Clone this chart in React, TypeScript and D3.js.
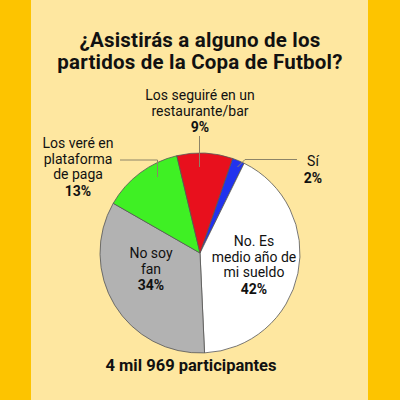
import React from 'react';
import * as d3 from 'd3';

// Datos de la encuesta (orden horario desde "Sí")
const categories = ['Sí', 'No. Es medio año de mi sueldo', 'No soy fan', 'Los veré en plataforma de paga', 'Los seguiré en un restaurante/bar'];
const values = [2, 42, 34, 13, 9];
const sliceColors = ['#2233ee', '#ffffff', '#b2b2b2', '#3ff024', '#e8101d'];
const titleLines = ['¿Asistirás a alguno de los', 'partidos de la Copa de Futbol?'];
const footer = '4 mil 969 participantes';

// Posición de las etiquetas (layout, no datos)
const labelLayout = [
  { lines: ['Sí'], x: 313, y: 166, line: [[297, 159.5], [245, 159.5], [237.5, 167]] },
  { lines: ['No. Es', 'medio año de', 'mi sueldo'], x: 254, y: 246, line: null },
  { lines: ['No soy', 'fan'], x: 151, y: 258, line: null },
  { lines: ['Los veré en', 'plataforma', 'de paga'], x: 78, y: 148, line: [[120, 160], [157.5, 160], [157.5, 177]] },
  { lines: ['Los seguiré en un', 'restaurante/bar'], x: 200, y: 100, line: [[199.5, 136], [199.5, 167]] },
];

const FONT = 'Roboto, "DejaVu Sans", sans-serif';

export default function App() {
  const width = 400;
  const height = 400;
  const cx = 200;
  const cy = 253;
  const radius = 100;

  const pie = d3.pie<number>()
    .sort(null)
    .value(d => d)
    .startAngle((19 * Math.PI) / 180)
    .endAngle((19 * Math.PI) / 180 + 2 * Math.PI);
  const arcs = pie(values);
  const arc = d3.arc<d3.PieArcDatum<number>>().innerRadius(0).outerRadius(radius);
  const lineGen = d3.line();

  return (
    <svg width={width} height={height} style={{ position: 'fixed', left: 0, top: 0 }} fontFamily={FONT}>
      <rect x={0} y={0} width={width} height={height} fill="#fdc400" />
      <rect x={31} y={0} width={337} height={height} fill="#fee7a0" />

      <text textAnchor="middle" fontSize={20.5} fontWeight={700} fill="#111" letterSpacing={0.2}>
        {titleLines.map((t, i) => (
          <tspan key={t} x={200} y={46.5 + i * 22}>{t}</tspan>
        ))}
      </text>

      <g transform={`translate(${cx},${cy})`}>
        {arcs.map((a, i) => (
          <path key={categories[i]} d={arc(a) || ''} fill={sliceColors[i]} stroke="#555" strokeWidth={0.8} />
        ))}
      </g>

      {labelLayout.map((l, i) => (
        <g key={categories[i]}>
          {l.line && (
            <path d={lineGen(l.line as [number, number][]) || ''} fill="none" stroke="#8c8468" strokeWidth={1} />
          )}
          <text x={l.x} textAnchor="middle" fontSize={14} fill="#111">
            {l.lines.map((s, j) => (
              <tspan key={s} x={l.x} y={l.y + j * 15.5}>{s}</tspan>
            ))}
            <tspan x={l.x} y={l.y + l.lines.length * 15.5 + 1} fontWeight={700}>{values[i]}%</tspan>
          </text>
        </g>
      ))}

      <text x={191} y={370.5} textAnchor="middle" fontSize={16.5} fontWeight={700} fill="#111">
        {footer}
      </text>
    </svg>
  );
}
